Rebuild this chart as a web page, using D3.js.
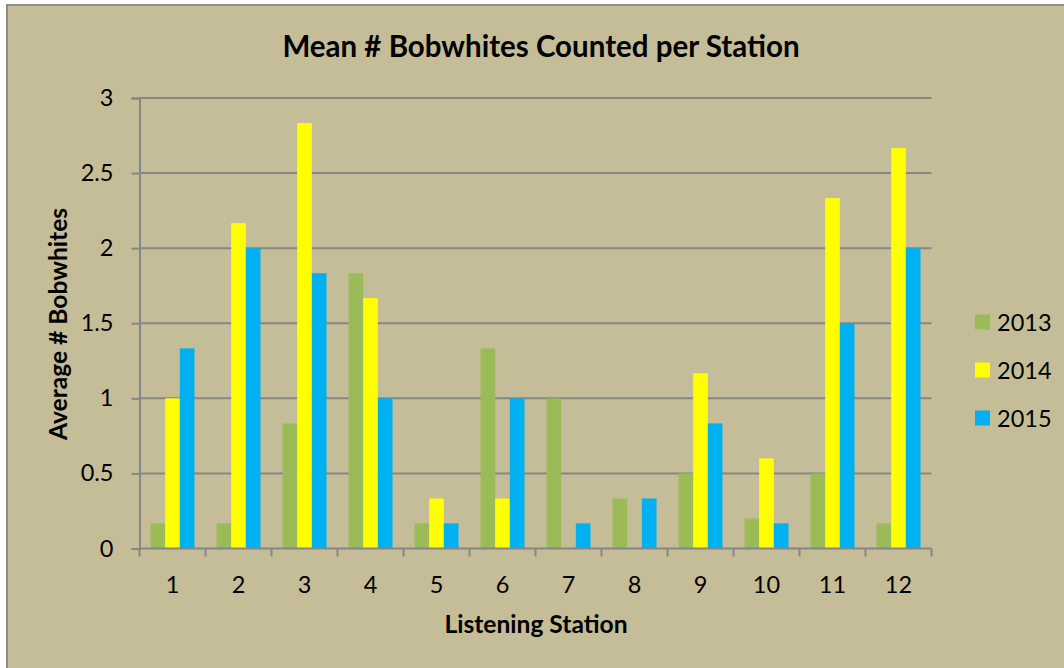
<!DOCTYPE html>
<html>
<head>
<meta charset="utf-8">
<script src="https://cdn.jsdelivr.net/npm/d3@7"></script>
<style>
  html, body { margin: 0; padding: 0; background: #ffffff; }
  svg { display: block; }
  text { font-family: Lato, "Open Sans", sans-serif; fill: #000; }
</style>
</head>
<body>
<svg id="chart" width="1064" height="668"></svg>
<script>
// Listening stations along the x axis
const stations = ["1", "2", "3", "4", "5", "6", "7", "8", "9", "10", "11", "12"];
// Survey years shown as series
const years = ["2013", "2014", "2015"];
// Mean bobwhites counted per station, one array per year
const counts2013 = [0.167, 0.167, 0.833, 1.833, 0.167, 1.333, 1.0, 0.333, 0.5, 0.2, 0.5, 0.167];
const counts2014 = [1.0, 2.167, 2.833, 1.667, 0.333, 0.333, 0, 0, 1.167, 0.6, 2.333, 2.667];
const counts2015 = [1.333, 2.0, 1.833, 1.0, 0.167, 1.0, 0.167, 0.333, 0.833, 0.167, 1.5, 2.0];
// Value axis ticks
const yTicks = [0, 0.5, 1, 1.5, 2, 2.5, 3];
const seriesColors = ["#9BBB59", "#FFFF00", "#00B0F0"];

const seriesValues = [counts2013, counts2014, counts2015];
const rows = stations.map((s, i) => ({
  station: s,
  values: years.map((y, j) => ({ year: y, value: seriesValues[j][i] }))
}));

const svg = d3.select("#chart");
const labelSize = 23.5;

// Chart panel
svg.append("rect")
  .attr("x", 7).attr("y", 5)
  .attr("width", 1064).attr("height", 680)
  .attr("fill", "#C4BD97")
  .attr("stroke", "#8C8C8C")
  .attr("stroke-width", 2);

const plot = { left: 139.5, right: 931.5, top: 98, bottom: 548.5 };

const x = d3.scaleBand()
  .domain(stations)
  .range([plot.left, plot.right])
  .paddingInner(0.3333)
  .paddingOuter(0.16667);

const x1 = d3.scaleBand()
  .domain(years)
  .range([0, x.bandwidth()]);

const y = d3.scaleLinear()
  .domain([0, 3])
  .range([plot.bottom, plot.top]);

const color = d3.scaleOrdinal().domain(years).range(seriesColors);

// Horizontal gridlines
svg.append("g")
  .selectAll("line")
  .data(yTicks.filter(t => t > 0))
  .join("line")
  .attr("x1", plot.left).attr("x2", plot.right)
  .attr("y1", d => y(d)).attr("y2", d => y(d))
  .attr("stroke", "#868686")
  .attr("stroke-width", 2);

// Bars
svg.append("g")
  .selectAll("g")
  .data(rows)
  .join("g")
  .attr("transform", d => `translate(${x(d.station)},0)`)
  .selectAll("rect")
  .data(d => d.values)
  .join("rect")
  .attr("x", d => x1(d.year))
  .attr("width", x1.bandwidth())
  .attr("y", d => y(d.value))
  .attr("height", d => y(0) - y(d.value))
  .attr("fill", d => color(d.year));

// Y axis
const yAxis = svg.append("g")
  .attr("transform", `translate(${plot.left},0)`)
  .call(d3.axisLeft(y).tickValues(yTicks).tickFormat(d3.format("")).tickSize(8).tickPadding(18));
yAxis.select(".domain").attr("stroke", "#868686").attr("stroke-width", 2);
yAxis.selectAll(".tick line").attr("stroke", "#868686").attr("stroke-width", 2);
yAxis.selectAll(".tick text")
  .attr("font-size", labelSize)
  .attr("font-family", "Lato, 'Open Sans', sans-serif")
  .attr("fill", "#000");

// X axis: category labels centred in bands, ticks on band boundaries
const xAxis = svg.append("g")
  .attr("transform", `translate(0,${plot.bottom})`)
  .call(d3.axisBottom(x).tickSize(0).tickPadding(0));
xAxis.select(".domain").remove();
xAxis.selectAll(".tick text")
  .attr("y", 44).attr("dy", null)
  .attr("font-size", labelSize)
  .attr("font-family", "Lato, 'Open Sans', sans-serif")
  .attr("fill", "#000");
svg.append("line")
  .attr("x1", plot.left).attr("x2", plot.right)
  .attr("y1", plot.bottom).attr("y2", plot.bottom)
  .attr("stroke", "#868686").attr("stroke-width", 2);
const step = x.step();
svg.append("g")
  .selectAll("line")
  .data(d3.range(stations.length + 1))
  .join("line")
  .attr("x1", i => plot.left + i * step)
  .attr("x2", i => plot.left + i * step)
  .attr("y1", plot.bottom)
  .attr("y2", plot.bottom + 8)
  .attr("stroke", "#868686").attr("stroke-width", 2);

// Titles
svg.append("text")
  .attr("x", 541).attr("y", 57)
  .attr("text-anchor", "middle")
  .attr("font-size", 29.5).attr("font-weight", "bold")
  .text("Mean # Bobwhites Counted per Station");

svg.append("text")
  .attr("transform", "translate(67,324) rotate(-90)")
  .attr("text-anchor", "middle")
  .attr("font-size", 24.6).attr("font-weight", "bold")
  .text("Average # Bobwhites");

svg.append("text")
  .attr("x", 536).attr("y", 633)
  .attr("text-anchor", "middle")
  .attr("font-size", 24.6).attr("font-weight", "bold")
  .text("Listening Station");

// Legend
const legend = svg.append("g")
  .selectAll("g")
  .data(years)
  .join("g")
  .attr("transform", (d, i) => `translate(975,${322 + i * 48})`);
legend.append("rect")
  .attr("x", 0).attr("y", -7.5)
  .attr("width", 15).attr("height", 15)
  .attr("fill", d => color(d));
legend.append("text")
  .attr("x", 22).attr("y", 8.5)
  .attr("font-size", labelSize)
  .text(d => d);
</script>
</body>
</html>
